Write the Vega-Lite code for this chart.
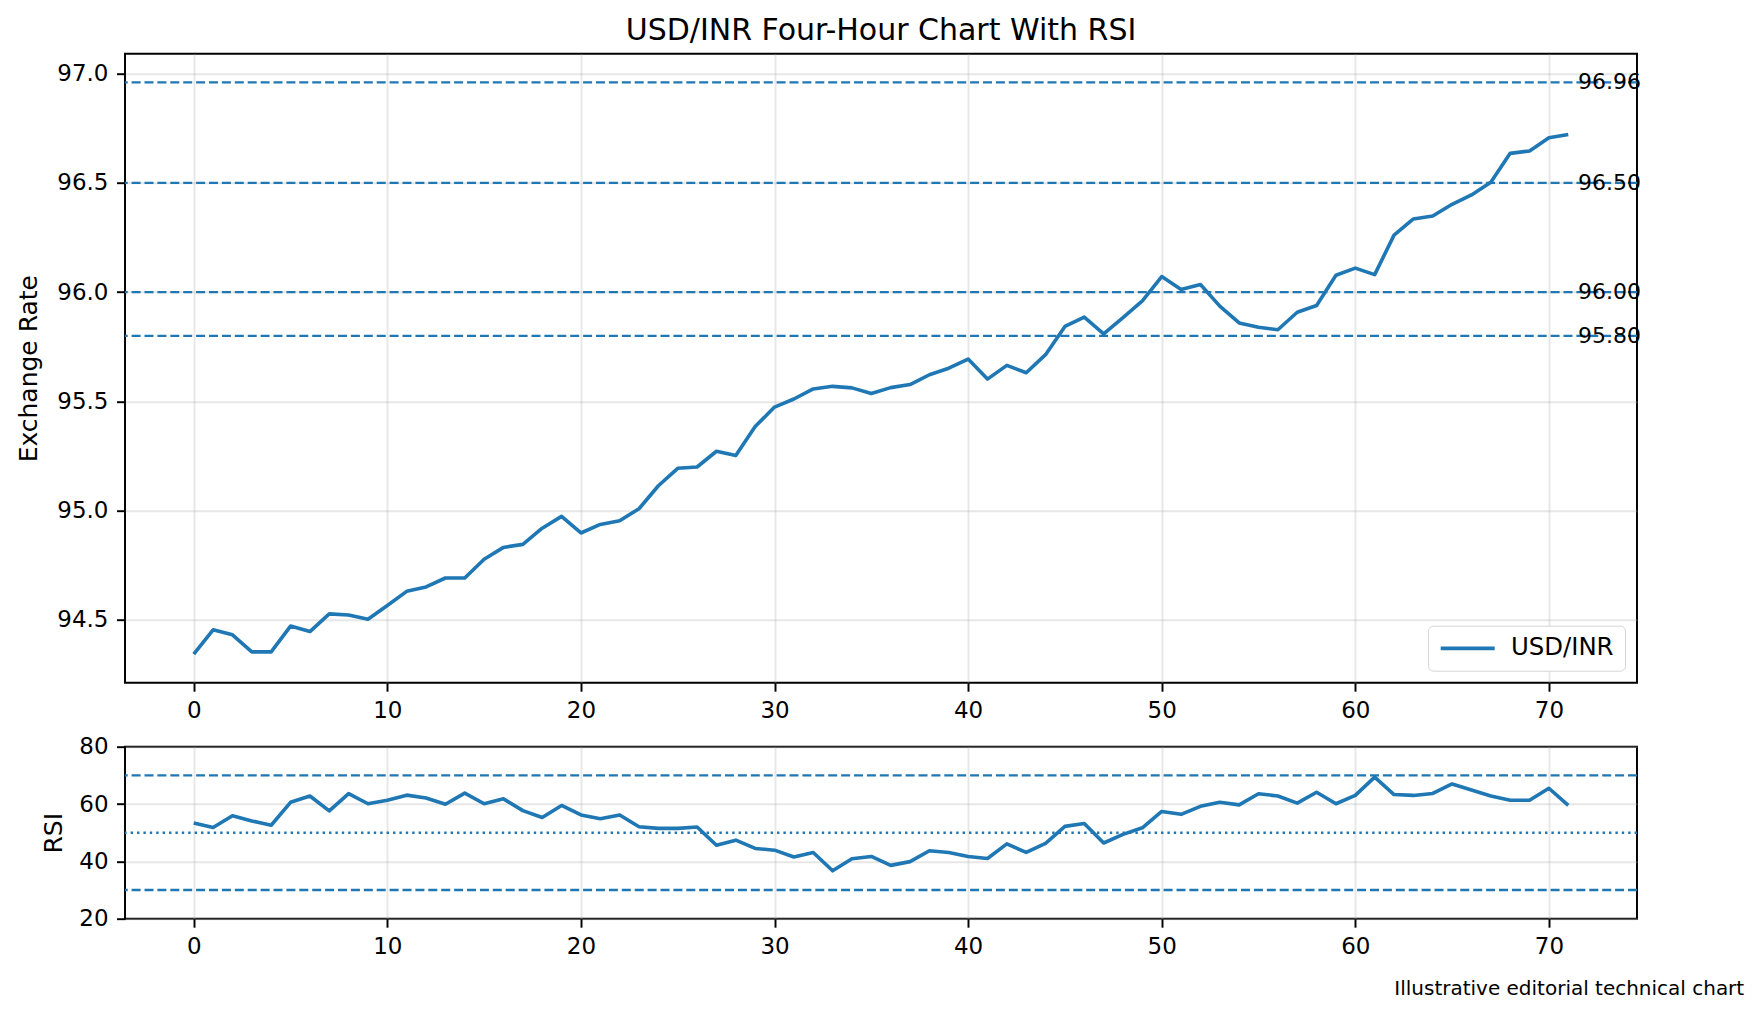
{
  "$schema": "https://vega.github.io/schema/vega-lite/v6.json",
  "background": "white",
  "padding": {"left": 15, "top": 14.7, "right": 8, "bottom": 8},
  "datasets": {
    "fx": [
      {"bar": 0, "close": 94.344, "rsi": 53.4},
      {"bar": 1, "close": 94.455, "rsi": 51.8},
      {"bar": 2, "close": 94.432, "rsi": 55.9},
      {"bar": 3, "close": 94.354, "rsi": 54.1},
      {"bar": 4, "close": 94.354, "rsi": 52.6},
      {"bar": 5, "close": 94.472, "rsi": 60.6},
      {"bar": 6, "close": 94.447, "rsi": 62.8},
      {"bar": 7, "close": 94.528, "rsi": 57.6},
      {"bar": 8, "close": 94.523, "rsi": 63.6},
      {"bar": 9, "close": 94.503, "rsi": 60.1},
      {"bar": 10, "close": 94.566, "rsi": 61.3},
      {"bar": 11, "close": 94.631, "rsi": 63.1},
      {"bar": 12, "close": 94.651, "rsi": 62.1},
      {"bar": 13, "close": 94.692, "rsi": 59.9},
      {"bar": 14, "close": 94.692, "rsi": 63.8},
      {"bar": 15, "close": 94.778, "rsi": 60.1},
      {"bar": 16, "close": 94.832, "rsi": 61.8},
      {"bar": 17, "close": 94.846, "rsi": 57.7},
      {"bar": 18, "close": 94.920, "rsi": 55.3},
      {"bar": 19, "close": 94.974, "rsi": 59.5},
      {"bar": 20, "close": 94.898, "rsi": 56.2},
      {"bar": 21, "close": 94.937, "rsi": 54.9},
      {"bar": 22, "close": 94.954, "rsi": 56.2},
      {"bar": 23, "close": 95.009, "rsi": 52.1},
      {"bar": 24, "close": 95.114, "rsi": 51.5},
      {"bar": 25, "close": 95.194, "rsi": 51.5},
      {"bar": 26, "close": 95.200, "rsi": 52.0},
      {"bar": 27, "close": 95.272, "rsi": 45.6},
      {"bar": 28, "close": 95.252, "rsi": 47.4},
      {"bar": 29, "close": 95.385, "rsi": 44.5},
      {"bar": 30, "close": 95.474, "rsi": 43.9},
      {"bar": 31, "close": 95.511, "rsi": 41.5},
      {"bar": 32, "close": 95.557, "rsi": 43.1},
      {"bar": 33, "close": 95.569, "rsi": 36.7},
      {"bar": 34, "close": 95.562, "rsi": 40.9},
      {"bar": 35, "close": 95.536, "rsi": 41.7},
      {"bar": 36, "close": 95.563, "rsi": 38.6},
      {"bar": 37, "close": 95.577, "rsi": 39.9},
      {"bar": 38, "close": 95.622, "rsi": 43.7},
      {"bar": 39, "close": 95.652, "rsi": 43.1},
      {"bar": 40, "close": 95.694, "rsi": 41.7},
      {"bar": 41, "close": 95.602, "rsi": 41.0},
      {"bar": 42, "close": 95.665, "rsi": 46.1},
      {"bar": 43, "close": 95.631, "rsi": 43.1},
      {"bar": 44, "close": 95.714, "rsi": 46.3},
      {"bar": 45, "close": 95.843, "rsi": 52.2},
      {"bar": 46, "close": 95.886, "rsi": 53.2},
      {"bar": 47, "close": 95.809, "rsi": 46.4},
      {"bar": 48, "close": 95.883, "rsi": 49.4},
      {"bar": 49, "close": 95.960, "rsi": 51.7},
      {"bar": 50, "close": 96.071, "rsi": 57.4},
      {"bar": 51, "close": 96.012, "rsi": 56.4},
      {"bar": 52, "close": 96.035, "rsi": 59.2},
      {"bar": 53, "close": 95.936, "rsi": 60.6},
      {"bar": 54, "close": 95.859, "rsi": 59.7},
      {"bar": 55, "close": 95.839, "rsi": 63.6},
      {"bar": 56, "close": 95.828, "rsi": 62.8},
      {"bar": 57, "close": 95.908, "rsi": 60.3},
      {"bar": 58, "close": 95.939, "rsi": 64.1},
      {"bar": 59, "close": 96.077, "rsi": 60.1},
      {"bar": 60, "close": 96.110, "rsi": 63.0},
      {"bar": 61, "close": 96.080, "rsi": 69.4},
      {"bar": 62, "close": 96.261, "rsi": 63.3},
      {"bar": 63, "close": 96.335, "rsi": 63.0},
      {"bar": 64, "close": 96.348, "rsi": 63.7},
      {"bar": 65, "close": 96.402, "rsi": 67.0},
      {"bar": 66, "close": 96.445, "rsi": 64.9},
      {"bar": 67, "close": 96.503, "rsi": 62.8},
      {"bar": 68, "close": 96.635, "rsi": 61.3},
      {"bar": 69, "close": 96.646, "rsi": 61.3},
      {"bar": 70, "close": 96.706, "rsi": 65.5},
      {"bar": 71, "close": 96.721, "rsi": 59.5}
    ],
    "levels": [
      {"level": 96.96, "label": "96.96"},
      {"level": 96.5, "label": "96.50"},
      {"level": 96.0, "label": "96.00"},
      {"level": 95.8, "label": "95.80"}
    ],
    "rsi_bands": [{"level": 70}, {"level": 30}],
    "rsi_mid": [{"level": 50}]
  },
  "bounds": "flush",
  "spacing": 64,
  "vconcat": [
    {
      "width": 1512,
      "height": 629,
      "title": {
        "text": "USD/INR Four-Hour Chart With RSI",
        "fontSize": 30,
        "fontWeight": "normal",
        "color": "black",
        "offset": 7.5,
        "frame": "group"
      },
      "layer": [
        {
          "data": {"name": "fx"},
          "mark": {"type": "line", "strokeWidth": 3.6, "strokeJoin": "round"},
          "encoding": {
            "x": {
              "field": "bar",
              "type": "quantitative",
              "scale": {"domain": [-3.55, 74.55], "nice": false, "zero": false},
              "axis": {"values": [0, 10, 20, 30, 40, 50, 60, 70], "format": "d", "title": null}
            },
            "y": {
              "field": "close",
              "type": "quantitative",
              "scale": {"domain": [94.213, 97.091], "nice": false, "zero": false},
              "axis": {"values": [94.5, 95.0, 95.5, 96.0, 96.5, 97.0], "format": ".1f", "title": "Exchange Rate"}
            },
            "color": {
              "datum": "USD/INR",
              "type": "nominal",
              "scale": {"range": ["#1f77b4"]},
              "legend": {
                "title": null,
                "orient": "bottom-right",
                "offset": 12,
                "symbolType": "M-1,0H4.4",
                "symbolSize": 400,
                "symbolStrokeWidth": 3.6,
                "labelFontSize": 24.4,
                "labelColor": "black",
                "labelOffset": 48,
                "padding": 10.5,
                "strokeColor": "#d5d5d5",
                "fillColor": "white",
                "cornerRadius": 5
              }
            }
          }
        },
        {
          "data": {"name": "levels"},
          "mark": {"type": "rule", "color": "#1f77b4", "strokeWidth": 2.4, "strokeDash": [9, 3.9]},
          "encoding": {
            "y": {"field": "level", "type": "quantitative"}
          }
        },
        {
          "data": {"name": "levels"},
          "mark": {"type": "text", "align": "left", "baseline": "middle", "fontSize": 22, "color": "black"},
          "encoding": {
            "x": {"datum": 71.5, "type": "quantitative"},
            "y": {"field": "level", "type": "quantitative"},
            "text": {"field": "label", "type": "nominal"}
          }
        }
      ]
    },
    {
      "width": 1512,
      "height": 172,
      "title": {
        "text": "Illustrative editorial technical chart",
        "orient": "bottom",
        "anchor": "end",
        "fontSize": 20,
        "fontWeight": "normal",
        "color": "black",
        "dx": 106,
        "offset": 20
      },
      "layer": [
        {
          "data": {"name": "fx"},
          "mark": {"type": "line", "strokeWidth": 3.6, "strokeJoin": "round", "color": "#1f77b4"},
          "encoding": {
            "x": {
              "field": "bar",
              "type": "quantitative",
              "scale": {"domain": [-3.55, 74.55], "nice": false, "zero": false},
              "axis": {"values": [0, 10, 20, 30, 40, 50, 60, 70], "format": "d", "title": null}
            },
            "y": {
              "field": "rsi",
              "type": "quantitative",
              "scale": {"domain": [20, 80], "nice": false, "zero": false},
              "axis": {"values": [20, 40, 60, 80], "format": "d", "title": "RSI", "titlePadding": 12}
            }
          }
        },
        {
          "data": {"name": "rsi_bands"},
          "mark": {"type": "rule", "color": "#1f77b4", "strokeWidth": 2.4, "strokeDash": [9, 3.9]},
          "encoding": {
            "y": {"field": "level", "type": "quantitative"}
          }
        },
        {
          "data": {"name": "rsi_mid"},
          "mark": {"type": "rule", "color": "#1f77b4", "strokeWidth": 2.4, "strokeDash": [2.4, 4]},
          "encoding": {
            "y": {"field": "level", "type": "quantitative"}
          }
        }
      ]
    }
  ],
  "resolve": {
    "scale": {"color": "independent"},
    "legend": {"color": "independent"}
  },
  "config": {
    "font": "DejaVu Sans",
    "view": {"stroke": "black", "strokeWidth": 1.95},
    "axis": {
      "domain": false,
      "tickColor": "black",
      "tickSize": 8.5,
      "tickWidth": 1.95,
      "labelFontSize": 23,
      "labelColor": "black",
      "labelPadding": 8.5,
      "labelFlush": false,
      "labelOverlap": false,
      "titleFontSize": 25,
      "titleFontWeight": "normal",
      "titleColor": "black",
      "titlePadding": 15,
      "gridColor": "#b0b0b0",
      "gridOpacity": 0.3,
      "gridWidth": 1.95
    }
  }
}
